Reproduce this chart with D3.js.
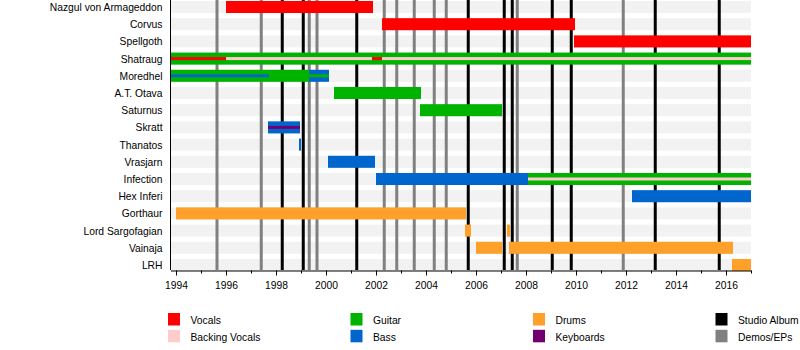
<!DOCTYPE html>
<html>
<head>
<meta charset="utf-8">
<script src="https://cdn.jsdelivr.net/npm/d3@7"></script>
<style>
  html, body { margin: 0; padding: 0; background: #fff; }
  svg { display: block; }
  text { font-family: "Liberation Sans", Arial, sans-serif; fill: #000; }
</style>
</head>
<body>
<svg id="chart" width="800" height="350"></svg>
<script>
// ---------- data ----------
const members = ["Nazgul von Armageddon", "Corvus", "Spellgoth", "Shatraug", "Moredhel",
  "A.T. Otava", "Saturnus", "Skratt", "Thanatos", "Vrasjarn", "Infection", "Hex Inferi",
  "Gorthaur", "Lord Sargofagian", "Vainaja", "LRH"];

const periodStart = 1993.78;
const periodEnd = 2017.0;

// main bars: [member, role, from, to]
const mainBars = [
  ["Nazgul von Armageddon", "Vocals", 1996.0, 2001.88],
  ["Corvus", "Vocals", 2002.24, 2009.96],
  ["Spellgoth", "Vocals", 2009.92, 2017.0],
  ["Shatraug", "Guitar", 1993.78, 2017.0],
  ["Moredhel", "Guitar", 1993.78, 1999.32],
  ["Moredhel", "Bass", 1999.32, 2000.12],
  ["A.T. Otava", "Guitar", 2000.32, 2003.8],
  ["Saturnus", "Guitar", 2003.76, 2007.04],
  ["Skratt", "Bass", 1997.68, 1998.96],
  ["Thanatos", "Bass", 1998.92, 1999.0],
  ["Vrasjarn", "Bass", 2000.08, 2001.96],
  ["Infection", "Bass", 2002.0, 2008.08],
  ["Infection", "Guitar", 2008.08, 2017.0],
  ["Hex Inferi", "Bass", 2012.24, 2017.0],
  ["Gorthaur", "Drums", 1994.0, 2005.6],
  ["Lord Sargofagian", "Drums", 2005.56, 2005.8],
  ["Lord Sargofagian", "Drums", 2007.24, 2007.36],
  ["Vainaja", "Drums", 2006.0, 2007.04],
  ["Vainaja", "Drums", 2007.32, 2016.28],
  ["LRH", "Drums", 2016.24, 2017.0]
];

// secondary (thin) bars: [member, role, from, to]
const thinBars = [
  ["Shatraug", "Vocals", 1993.78, 1996.0],
  ["Shatraug", "Backing Vocals", 1996.0, 2001.84],
  ["Shatraug", "Vocals", 2001.84, 2002.24],
  ["Shatraug", "Backing Vocals", 2002.24, 2017.0],
  ["Moredhel", "Bass", 1993.78, 1997.72],
  ["Moredhel", "Guitar", 1999.32, 2000.12],
  ["Skratt", "Keyboards", 1997.68, 1998.96],
  ["Infection", "Backing Vocals", 2008.08, 2017.0]
];

const studioAlbums = [1998.25, 1999.09, 2001.23, 2005.69, 2007.13, 2007.45, 2009.05, 2009.81, 2013.17, 2015.73];
const demosEPs = [1995.64, 1997.41, 1999.33, 1999.64, 2002.33, 2002.83, 2003.53, 2004.33, 2004.81, 2007.65, 2011.89];

const majorTicks = [1994, 1996, 1998, 2000, 2002, 2004, 2006, 2008, 2010, 2012, 2014, 2016];
const minorTicks = [1995, 1997, 1999, 2001, 2003, 2005, 2007, 2009, 2011, 2013, 2015, 2017];

const legendColumns = [
  ["Vocals", "Backing Vocals"],
  ["Guitar", "Bass"],
  ["Drums", "Keyboards"],
  ["Studio Album", "Demos/EPs"]
];

// ---------- styles ----------
const colors = {
  "Vocals": "#ff0000",
  "Backing Vocals": "#ffcccc",
  "Guitar": "#00b300",
  "Bass": "#0066cc",
  "Drums": "#ffa02b",
  "Keyboards": "#700070",
  "Studio Album": "#000000",
  "Demos/EPs": "#808080"
};

// ---------- drawing ----------
const svg = d3.select("#chart");
const axisY = 270;

const x = d3.scaleLinear().domain([periodStart, periodEnd]).range([170.5, 751]);
const y = d3.scaleBand().domain(members).range([-1.6, 273.6]).paddingInner(0.3).paddingOuter(0.15);
const bw = y.bandwidth();

// background stripes
svg.append("g").selectAll("rect").data(members).join("rect")
  .attr("x", x(periodStart)).attr("width", x(periodEnd) - x(periodStart))
  .attr("y", d => y(d)).attr("height", bw)
  .attr("fill", "#f2f2f2");

// release lines
const lines = svg.append("g");
lines.selectAll("line.demo").data(demosEPs).join("line")
  .attr("class", "demo")
  .attr("x1", d => x(d)).attr("x2", d => x(d))
  .attr("y1", 0).attr("y2", axisY)
  .attr("stroke", colors["Demos/EPs"]).attr("stroke-width", 3);
lines.selectAll("line.album").data(studioAlbums).join("line")
  .attr("class", "album")
  .attr("x1", d => x(d)).attr("x2", d => x(d))
  .attr("y1", 0).attr("y2", axisY)
  .attr("stroke", colors["Studio Album"]).attr("stroke-width", 3);

// main bars
svg.append("g").selectAll("rect").data(mainBars).join("rect")
  .attr("x", d => x(d[2])).attr("width", d => x(d[3]) - x(d[2]))
  .attr("y", d => y(d[0])).attr("height", bw)
  .attr("fill", d => colors[d[1]]);

// thin bars
svg.append("g").selectAll("rect").data(thinBars).join("rect")
  .attr("x", d => x(d[2])).attr("width", d => x(d[3]) - x(d[2]))
  .attr("y", d => y(d[0]) + bw / 2 - 1.5).attr("height", 3)
  .attr("fill", d => colors[d[1]]);

// member labels
svg.append("g").selectAll("text").data(members).join("text")
  .attr("x", 162.5).attr("y", d => y(d) + bw / 2 + 4)
  .attr("text-anchor", "end")
  .style("font-size", "10.3px")
  .text(d => d);

// left axis line
svg.append("line")
  .attr("x1", 170.5).attr("x2", 170.5).attr("y1", 0).attr("y2", axisY)
  .attr("stroke", "#000").attr("stroke-width", 1);

// bottom axis: major ticks
const gAxis = svg.append("g").attr("transform", `translate(0,${axisY + 0.5})`);
gAxis.call(d3.axisBottom(x).tickValues(majorTicks).tickFormat(d3.format("d")).tickSize(5).tickSizeOuter(0));
gAxis.selectAll("text")
  .attr("y", 18.5).attr("dy", 0)
  .style("font-size", "10.3px")
  .style("font-family", "'Liberation Sans', Arial, sans-serif")
  .attr("fill", "#000");
gAxis.select(".domain").attr("stroke", "#000");
// minor ticks
const gMinor = svg.append("g").attr("transform", `translate(0,${axisY + 0.5})`);
gMinor.call(d3.axisBottom(x).tickValues(minorTicks).tickFormat("").tickSize(3).tickSizeOuter(0));
gMinor.select(".domain").remove();

// legend
const legend = svg.append("g");
const colX = [168, 350.5, 533, 715.5];
legendColumns.forEach((col, ci) => {
  col.forEach((name, ri) => {
    const gy = 313 + ri * 16.8;
    legend.append("rect")
      .attr("x", colX[ci]).attr("y", gy).attr("width", 12).attr("height", 12.5)
      .attr("fill", colors[name]);
    legend.append("text")
      .attr("x", colX[ci] + 22.5).attr("y", gy + 10.8)
      .style("font-size", "10.3px")
      .text(name);
  });
});
</script>
</body>
</html>
